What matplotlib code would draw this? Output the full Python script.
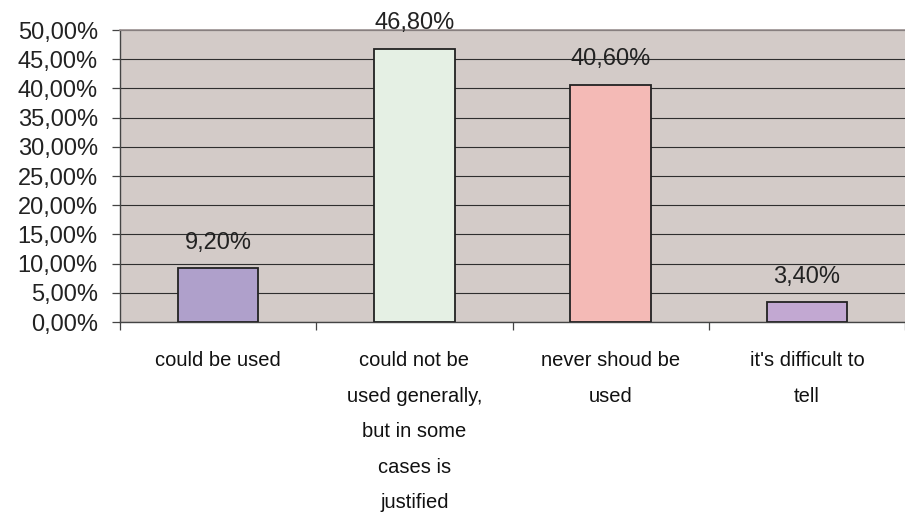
import numpy as np
import matplotlib.pyplot as plt
from matplotlib.ticker import FuncFormatter, MultipleLocator, FixedLocator

# --- Data ---
categories = [
    "could be used",
    "could not be\nused generally,\nbut in some\ncases is\njustified",
    "never shoud be\nused",
    "it's difficult to\ntell",
]
values = [9.20, 46.80, 40.60, 3.40]
bar_colors = ["#afa0cb", "#e5f0e4", "#f4bab6", "#c2a8d2"]

plt.rcParams['font.family'] = ['Liberation Sans', 'DejaVu Sans']

fig = plt.figure(figsize=(9.05, 5.16), dpi=100, facecolor='white')
ax = fig.add_axes([120 / 905, 1 - 322 / 516, 1 - 120 / 905, (322 - 30) / 516])
ax.set_facecolor('#d3cbc8')

x = np.arange(len(categories))
ax.bar(x, values, width=0.41, color=bar_colors, edgecolor='#222222', linewidth=1.3, zorder=3)

for xi, v in zip(x, values):
    ax.annotate(f"{v:.2f}%".replace('.', ','), (xi, v), xytext=(0, 14),
                textcoords='offset points', ha='center', va='baseline',
                fontsize=17, color='#222222', annotation_clip=False)

ax.set_xlim(-0.5, 3.5)
ax.set_ylim(0, 50)
ax.yaxis.set_major_locator(MultipleLocator(5))
ax.yaxis.set_major_formatter(FuncFormatter(lambda v, p: f"{v:.2f}%".replace('.', ',')))
ax.grid(axis='y', color='#2e2e2e', linewidth=0.8, zorder=1)
ax.set_axisbelow(True)

ax.set_xticks(x)
ax.set_xticklabels(categories, fontsize=14.5, linespacing=2.1, color='#111111')
ax.tick_params(axis='x', which='major', length=0, pad=21)
ax.xaxis.set_minor_locator(FixedLocator([-0.5, 0.5, 1.5, 2.5, 3.5]))
ax.tick_params(axis='x', which='minor', length=6, width=0.9, color='#444444', direction='out')
ax.tick_params(axis='y', length=6, width=0.9, color='#444444', labelsize=17,
               labelcolor='#222222', pad=10)

for side in ['left', 'bottom']:
    ax.spines[side].set_color('#444444')
    ax.spines[side].set_linewidth(1.0)
ax.spines['top'].set_color('#9a9090')
ax.spines['top'].set_linewidth(1.2)
ax.spines['right'].set_visible(False)

fig.savefig('out.png', dpi=100, facecolor='white')
